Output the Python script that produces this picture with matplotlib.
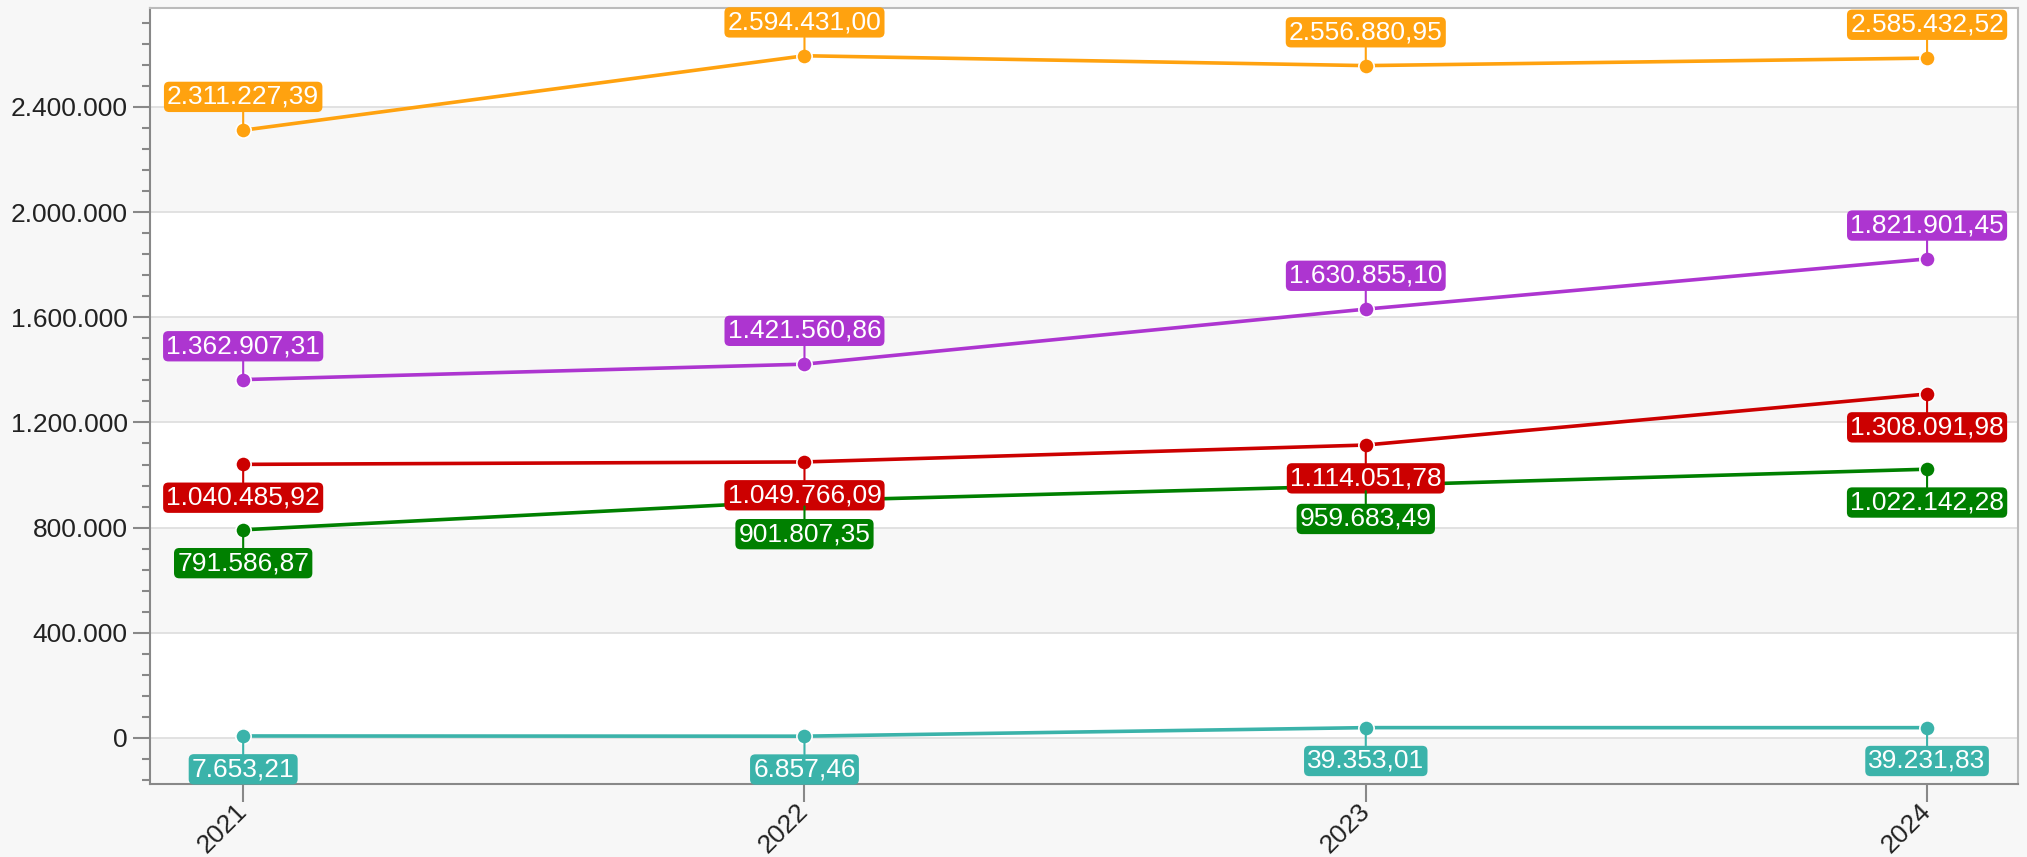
import matplotlib
matplotlib.use('Agg')
import matplotlib.pyplot as plt
from matplotlib.ticker import MultipleLocator, FuncFormatter

plt.rcParams['font.family'] = ['Liberation Sans', 'DejaVu Sans']

# Datos
years = [2021, 2022, 2023, 2024]
serie_naranja = [2311227.39, 2594431.00, 2556880.95, 2585432.52]
serie_morada = [1362907.31, 1421560.86, 1630855.10, 1821901.45]
serie_roja = [1040485.92, 1049766.09, 1114051.78, 1308091.98]
serie_verde = [791586.87, 901807.35, 959683.49, 1022142.28]
serie_teal = [7653.21, 6857.46, 39353.01, 39231.83]

series = [
    (serie_naranja, '#ffa20f', 'up'),
    (serie_morada, '#ad35d0', 'up'),
    (serie_roja, '#cc0000', 'down'),
    (serie_verde, '#008000', 'down'),
    (serie_teal, '#3bb3aa', 'down'),
]


def fmt_miles(v, pos=None):
    return f"{v:,.0f}".replace(',', '.')


def fmt_dec(v):
    s = f"{v:,.2f}"
    return s.replace(',', '#').replace('.', ',').replace('#', '.')


fig = plt.figure(figsize=(20.27, 8.57), dpi=100, facecolor='#f7f7f7')
ax = fig.add_axes([150 / 2027, 73 / 857, 1868 / 2027, 776 / 857])
ax.set_facecolor('white')

ymin, ymax = -175000, 2776000
ax.set_ylim(ymin, ymax)
ax.set_xlim(2021 - 0.166, 2024 + 0.162)

# Bandas alternas
bandas = [-400000, 0, 400000, 800000, 1200000, 1600000, 2000000, 2400000, 2800000]
for i in range(len(bandas) - 1):
    if i % 2 == 0:
        ax.axhspan(bandas[i], bandas[i + 1], color='#f7f7f7', zorder=0, lw=0)

ax.yaxis.set_major_locator(MultipleLocator(400000))
ax.yaxis.set_minor_locator(MultipleLocator(80000))
ax.yaxis.set_major_formatter(FuncFormatter(fmt_miles))
ax.grid(axis='y', which='major', color='#dddddd', linewidth=1.2, zorder=1)
ax.set_axisbelow(True)

ax.set_xticks(years)
ax.set_xticklabels([str(y) for y in years], rotation=45, ha='right',
                   va='center', rotation_mode='anchor')

ax.tick_params(axis='y', which='major', length=12, width=1.5, color='#888888',
               labelsize=19, labelcolor='#222222', pad=4)
ax.tick_params(axis='y', which='minor', length=6, width=1.5, color='#888888')
ax.tick_params(axis='x', length=13, width=1.5, color='#888888',
               labelsize=19, labelcolor='#222222', pad=4)

for lado in ['left', 'bottom']:
    ax.spines[lado].set_color('#888888')
    ax.spines[lado].set_linewidth(1.5)
for lado in ['top', 'right']:
    ax.spines[lado].set_color('#bbbbbb')
    ax.spines[lado].set_linewidth(1.5)

for valores, color, pos in series:
    ax.plot(years, valores, color=color, linewidth=2.6, marker='o',
            markersize=11, markeredgecolor='white', markeredgewidth=1.2,
            zorder=3)
    for x, v in zip(years, valores):
        dy = 24 if pos == 'up' else -24
        ax.annotate(fmt_dec(v), xy=(x, v), xytext=(0, dy),
                    textcoords='offset points', ha='center', va='center',
                    fontsize=19, color='white', zorder=5,
                    bbox=dict(boxstyle='round,pad=0.12,rounding_size=0.2',
                              fc=color, ec='none'),
                    arrowprops=dict(arrowstyle='-', color=color, lw=1.5,
                                    shrinkA=0, shrinkB=4))

fig.savefig('out.png', dpi=100, facecolor=fig.get_facecolor())
